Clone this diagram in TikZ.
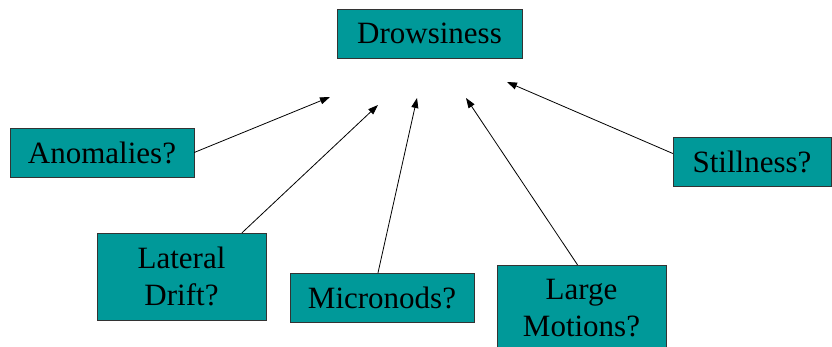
\documentclass[tikz,border=0pt]{standalone}
\usepackage{fontspec}
\setmainfont{Liberation Serif}
\usetikzlibrary{arrows.meta}
\definecolor{boxteal}{RGB}{0,153,153}

\begin{document}
\begin{tikzpicture}[
    x=1pt, y=-1pt,
    cue/.style={draw=black!80, fill=boxteal, inner sep=0pt, align=center,
        font=\fontsize{31}{37}\selectfont, minimum height=49pt},
    tall/.style={minimum width=169pt, minimum height=87pt},
    every edge/.append style={line width=0.8pt, -{Triangle[length=10pt, width=7pt]}}
]
   \useasboundingbox (0,0) rectangle (832,347);

   % Boxes
   \node[cue, minimum width=185pt] (drow) at (429.5,33.5) {Drowsiness};
   \node[cue, minimum width=184pt] (anom) at (102,152.5) {Anomalies?};
   \node[cue, tall] (lat) at (181.5,276.5) {Lateral\\Drift?};
   \node[cue, minimum width=184pt] (micro) at (382,297.5) {Micronods?};
   \node[cue, tall] (large) at (581.5,308.5) {Large\\Motions?};
   \node[cue, minimum width=158pt] (still) at (752,161.5) {Stillness?};

   % Arrow tips below Drowsiness
   \coordinate (t1) at (330,97);
   \coordinate (t2) at (378,105);
   \coordinate (t3) at (417,98);
   \coordinate (t4) at (466,98);
   \coordinate (t5) at (507,82);

   % Arrows
   \path
   (anom.east) edge (t1)
   ([xshift=60.5pt]lat.north) edge (t2)
   ([xshift=-4pt]micro.north) edge (t3)
   ([xshift=-4pt]large.north) edge (t4)
   ([yshift=8pt]still.west) edge (t5);
\end{tikzpicture}
\end{document}
